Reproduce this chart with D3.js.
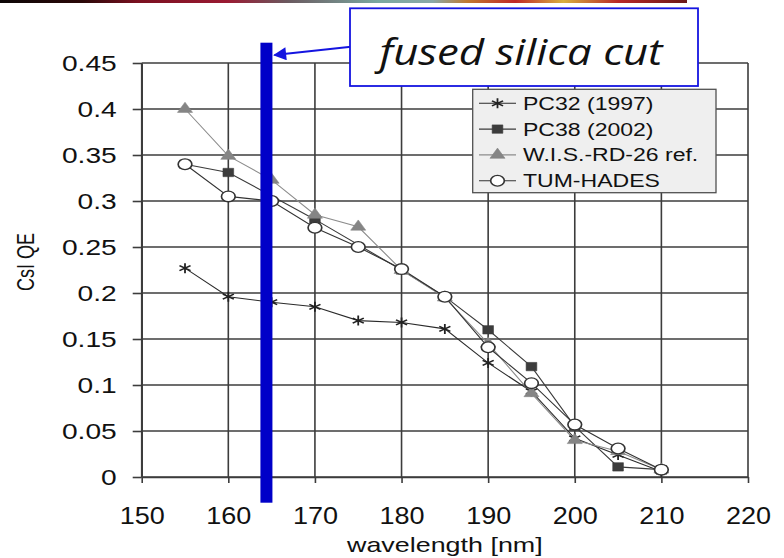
<!DOCTYPE html>
<html>
<head>
<meta charset="utf-8">
<script src="https://cdn.jsdelivr.net/npm/d3@7"></script>
<style>
  html, body { margin: 0; padding: 0; background: #fff; }
  svg { display: block; }
  text { font-family: "Liberation Sans", Arial, Helvetica, sans-serif; fill: #111; }
</style>
</head>
<body>
<svg id="chart" width="784" height="558"></svg>
<script>
// Measured CsI photocathode quantum efficiency vs. wavelength
const wavelengths = [155, 160, 165, 170, 175, 180, 185, 190, 195, 200, 205, 210];
const pc32 = [0.227, 0.196, 0.19, 0.185, 0.17, 0.168, 0.161, 0.124, 0.093, 0.042, 0.024, 0.006];
const pc38 = [0.34, 0.331, null, 0.28, null, 0.225, 0.196, 0.16, 0.12, 0.055, 0.011, 0.008];
const wis  = [0.40, 0.349, 0.323, 0.285, 0.272, 0.225, 0.195, 0.145, 0.091, 0.04, 0.028, 0.008];
const tum  = [0.34, 0.305, 0.30, 0.271, 0.25, 0.226, 0.196, 0.141, 0.102, 0.057, 0.031, 0.008];

const seriesNames = ["PC32 (1997)", "PC38 (2002)", "W.I.S.-RD-26 ref.", "TUM-HADES"];
const xTicks = [150, 160, 170, 180, 190, 200, 210, 220];
const yTicks = [0, 0.05, 0.1, 0.15, 0.2, 0.25, 0.3, 0.35, 0.4, 0.45];
const xTitle = "wavelength [nm]";
const yTitle = "CsI QE";
const cutWavelength = 164.4;
const cutLabel = "fused silica cut";

const SX = 1.28; // horizontal stretch of the chart lettering

const svg = d3.select("#chart");
const defs = svg.append("defs");

// thin colour band along the top edge
const grad = defs.append("linearGradient").attr("id", "band");
[["0", "#0c0606"], ["0.12", "#2a0808"], ["0.2", "#7a1020"], ["0.33", "#9a1a32"],
 ["0.42", "#6a5a60"], ["0.55", "#7aa8a0"], ["0.63", "#8aa8a8"], ["0.68", "#c07a30"],
 ["0.75", "#c02828"], ["0.82", "#d8b040"], ["0.9", "#b82828"], ["1", "#6a1818"]]
  .forEach(([o, c]) => grad.append("stop").attr("offset", o).attr("stop-color", c));
svg.append("rect").attr("x", 0).attr("y", 0).attr("width", 687).attr("height", 3)
  .attr("fill", "url(#band)");

const x = d3.scaleLinear().domain([150, 220]).range([141.7, 748]);
const y = d3.scaleLinear().domain([0, 0.45]).range([477, 63]);

const gridColor = "#3c3c3c";

// grid
const grid = svg.append("g");
grid.selectAll(".vg").data(xTicks).join("line")
  .attr("x1", d => x(d)).attr("x2", d => x(d))
  .attr("y1", y(0.45)).attr("y2", y(0))
  .attr("stroke", gridColor).attr("stroke-width", 1.6);
grid.selectAll(".hg").data(yTicks).join("line")
  .attr("x1", x(150)).attr("x2", x(220))
  .attr("y1", d => y(d)).attr("y2", d => y(d))
  .attr("stroke", gridColor).attr("stroke-width", 1.6);

// axes
const yAxis = svg.append("g").attr("transform", `translate(${x(150)},0)`)
  .call(d3.axisLeft(y).tickValues(yTicks).tickSize(9).tickSizeOuter(0)
    .tickFormat(d => String(+d.toFixed(2))));
const xAxis = svg.append("g").attr("transform", `translate(0,${y(0)})`)
  .call(d3.axisBottom(x).tickValues(xTicks).tickSize(6).tickSizeOuter(0));
[yAxis, xAxis].forEach(g => {
  g.select(".domain").attr("stroke", gridColor).attr("stroke-width", 1.6);
  g.selectAll(".tick line").attr("stroke", gridColor).attr("stroke-width", 1.6);
});
yAxis.selectAll(".tick text")
  .attr("x", 0).attr("dy", "0.36em")
  .attr("transform", `translate(-25,0) scale(${SX},1)`)
  .style("font-size", "22px").attr("fill", "#111");
xAxis.selectAll(".tick text")
  .attr("y", 0).attr("dy", 0)
  .attr("transform", `translate(0,47) scale(1.15,1)`)
  .style("font-size", "23.5px").attr("fill", "#111");

// axis titles
svg.append("text")
  .attr("transform", `translate(${(x(150) + x(220)) / 2},552) scale(${SX},1)`)
  .attr("text-anchor", "middle").style("font-size", "21px").text(xTitle);
svg.append("text")
  .attr("transform", `translate(34,262) scale(1.3,1) rotate(-90)`)
  .attr("text-anchor", "middle").style("font-size", "18px").text(yTitle);

// series styles
const styles = [
  { values: pc32, line: "#2a2a2a", symbol: d3.symbolAsterisk, size: 70, fill: "none", stroke: "#222", sw: 1.4 },
  { values: pc38, line: "#3a3a3a", symbol: d3.symbolSquare,   size: 70, fill: "#3c3c3c", stroke: "#3c3c3c", sw: 0.5 },
  { values: wis,  line: "#8c8c8c", symbol: d3.symbolTriangle, size: 60, fill: "#858585", stroke: "#858585", sw: 0.5 },
  { values: tum,  line: "#333",    symbol: d3.symbolCircle,   size: 90, fill: "#fff",    stroke: "#333", sw: 1.3 }
];

const lineGen = d3.line().x(d => x(d[0])).y(d => y(d[1]));
const plot = svg.append("g");
styles.forEach(s => {
  const pts = wavelengths.map((w, i) => [w, s.values[i]]).filter(p => p[1] != null);
  s.pts = pts;
  plot.append("path").attr("d", lineGen(pts))
    .attr("fill", "none").attr("stroke", s.line).attr("stroke-width", 1.1);
});
styles.forEach(s => {
  plot.selectAll(null).data(s.pts).join("path")
    .attr("transform", d => `translate(${x(d[0])},${y(d[1])}) scale(${SX},1)`)
    .attr("d", d3.symbol(s.symbol, s.size)())
    .attr("fill", s.fill).attr("stroke", s.stroke).attr("stroke-width", s.sw);
});

// legend
const lg = svg.append("g");
lg.append("rect").attr("x", 472.7).attr("y", 89.3).attr("width", 243.3).attr("height", 103.4)
  .attr("fill", "#efefef").attr("stroke", "#505050").attr("stroke-width", 1.3);
seriesNames.forEach((name, i) => {
  const s = styles[i];
  const cy = 103.3 + i * 25.8;
  lg.append("line").attr("x1", 479).attr("x2", 516).attr("y1", cy).attr("y2", cy)
    .attr("stroke", s.line).attr("stroke-width", 1.1);
  lg.append("path").attr("transform", `translate(497.5,${cy}) scale(${SX},1)`)
    .attr("d", d3.symbol(s.symbol, s.size)())
    .attr("fill", s.fill).attr("stroke", s.stroke).attr("stroke-width", s.sw);
  lg.append("text").attr("transform", `translate(523,${cy}) scale(${SX},1)`)
    .attr("dy", "0.36em").style("font-size", "18px").text(name);
});

// fused silica cut-off marker
const blue = "#0000c8";
const arrowBlue = "#1414e0";
svg.append("rect").attr("x", x(cutWavelength) - 6).attr("y", 42.7)
  .attr("width", 12).attr("height", 460).attr("fill", blue);

defs.append("marker").attr("id", "ah")
  .attr("viewBox", "0 0 10 10").attr("refX", 9).attr("refY", 5)
  .attr("markerWidth", 8).attr("markerHeight", 6.5).attr("orient", "auto")
  .attr("markerUnits", "strokeWidth")
  .append("path").attr("d", "M0,0 L10,5 L0,10 Z").attr("fill", arrowBlue);
svg.append("line")
  .attr("x1", 351).attr("y1", 46.7).attr("x2", x(cutWavelength) + 8).attr("y2", 55)
  .attr("stroke", arrowBlue).attr("stroke-width", 2)
  .attr("marker-end", "url(#ah)");

svg.append("rect").attr("x", 350).attr("y", 8.3).attr("width", 348).attr("height", 77.7)
  .attr("fill", "#fff").attr("stroke", arrowBlue).attr("stroke-width", 1.8);
svg.append("text").attr("x", 521).attr("y", 65)
  .attr("text-anchor", "middle")
  .style("font-family", "'Open Sans', 'Noto Sans', sans-serif")
  .style("font-style", "italic").style("font-size", "37px").attr("fill", "#000")
  .attr("textLength", 283).attr("lengthAdjust", "spacingAndGlyphs")
  .text(cutLabel);
</script>
</body>
</html>
